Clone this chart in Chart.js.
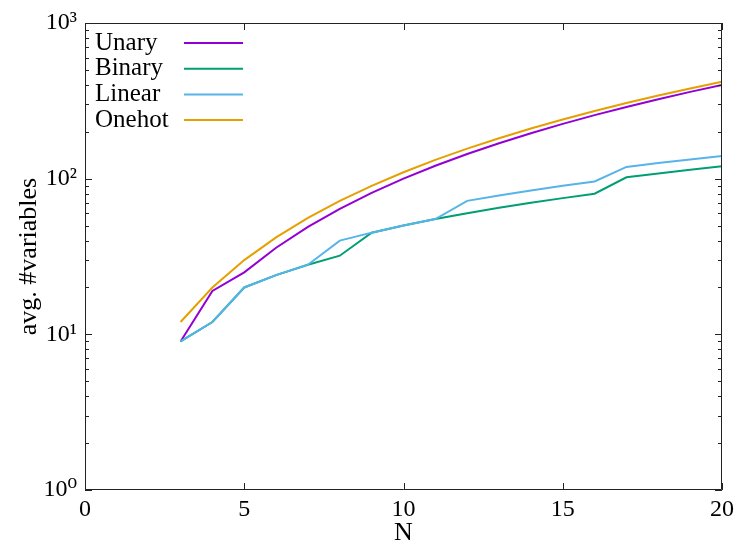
<!DOCTYPE html>
<html>
<head>
<meta charset="utf-8">
<script src="https://cdn.jsdelivr.net/npm/chart.js@4/dist/chart.umd.min.js"></script>
<style>
html,body{margin:0;padding:0;background:#fff;}
#wrap{width:739px;height:549px;position:relative;}
</style>
</head>
<body>
<div id="wrap"><canvas id="c" width="739" height="549"></canvas></div>
<script>
const N = [3,4,5,6,7,8,9,10,11,12,13,14,15,16,17,18,19,20];
const unary  = [9,19,25,36,49,64,81,100,121,144,169,196,225,256,289,324,361,400];
const binary = [9,12,20,24,28,32,45,50,55,60,65,70,75,80,102,108,114,120];
const linear = [9,12,20,24,28,40,45,50,55,72,78,84,90,96,119,126,133,140];
const onehot = [12,20,30,42,56,72,90,110,132,156,182,210,240,272,306,342,380,420];
const seriesNames = ['Unary','Binary','Linear','Onehot'];
const xTicks = [0,5,10,15,20];
const yTicks = [1,10,100,1000];
const yTickLabels = ['10\u2070','10\u00B9','10\u00B2','10\u00B3'];

const FONT = '"Liberation Serif","DejaVu Serif",serif';
const colors = ['#9400D3','#009E73','#56B4E9','#E69F00'];
const values = [unary,binary,linear,onehot];

const datasets = seriesNames.map((name,i)=>({
  label:name,
  data:N.map((n,j)=>({x:n,y:values[i][j]})),
  borderColor:colors[i],
  backgroundColor:colors[i],
  borderWidth:2,
  pointRadius:0,
  tension:0,
  fill:false,
  order:[3,2,1,0][i]
}));

const framePlugin = {
  id:'frame',
  afterDatasetsDraw(chart){
    const ctx = chart.ctx, a = chart.chartArea;
    const xs = chart.scales.x, ys = chart.scales.y;
    ctx.save();
    ctx.strokeStyle = '#222';
    ctx.lineWidth = 1;
    ctx.beginPath();
    ctx.rect(a.left+0.5, a.top+0.5, a.right-a.left-1, a.bottom-a.top-1);
    ctx.stroke();
    ctx.beginPath();
    xTicks.forEach(v=>{
      const px = Math.round(xs.getPixelForValue(v))+0.5;
      ctx.moveTo(px,a.bottom); ctx.lineTo(px,a.bottom-7);
      ctx.moveTo(px,a.top); ctx.lineTo(px,a.top+7);
    });
    for(let d=0; d<3; d++){
      for(let m=1; m<=10; m++){
        const v = m*Math.pow(10,d);
        const py = Math.round(ys.getPixelForValue(v))+0.5;
        const len = (m===1||m===10)?7:4;
        ctx.moveTo(a.left,py); ctx.lineTo(a.left+len,py);
        ctx.moveTo(a.right,py); ctx.lineTo(a.right-len,py);
      }
    }
    ctx.stroke();
    // legend (text then line sample, gnuplot style)
    ctx.font = '25px '+FONT;
    ctx.textBaseline = 'middle';
    ctx.textAlign = 'left';
    chart.data.datasets.forEach((ds,i)=>{
      const y = 43 + i*25.7;
      ctx.fillStyle = '#000';
      ctx.fillText(ds.label, 95, y);
      ctx.strokeStyle = ds.borderColor;
      ctx.lineWidth = 2;
      ctx.beginPath();
      ctx.moveTo(184,y); ctx.lineTo(243,y);
      ctx.stroke();
    });
    ctx.restore();
  }
};

new Chart(document.getElementById('c'),{
  type:'line',
  data:{datasets},
  plugins:[framePlugin],
  options:{
    responsive:false,
    animation:false,
    layout:{padding:{top:23,right:16,left:0,bottom:0}},
    plugins:{legend:{display:false},tooltip:{enabled:false}},
    scales:{
      x:{
        type:'linear',min:0,max:20,
        grid:{display:false,drawTicks:false},
        border:{display:false},
        afterBuildTicks(s){ s.ticks = xTicks.map(v=>({value:v})); },
        ticks:{color:'#000',font:{family:FONT,size:24},padding:5,maxRotation:0,
          callback:(v)=>String(v)},
        title:{display:true,text:'N',color:'#000',font:{family:FONT,size:26},padding:{top:0,bottom:0}},
        afterFit(s){ s.height = 59; }
      },
      y:{
        type:'logarithmic',min:1,max:1000,
        grid:{display:false,drawTicks:false},
        border:{display:false},
        afterBuildTicks(s){ s.ticks = yTicks.map(v=>({value:v})); },
        ticks:{color:'#000',font:{family:FONT,size:24},padding:8,
          callback:(v)=>{const k=yTicks.indexOf(v); return k>=0?yTickLabels[k]:'';}},
        title:{display:true,text:'avg. #variables',color:'#000',font:{family:FONT,size:26},padding:{top:14,bottom:0}},
        afterFit(s){ s.width = 85; }
      }
    }
  }
});
</script>
</body>
</html>
